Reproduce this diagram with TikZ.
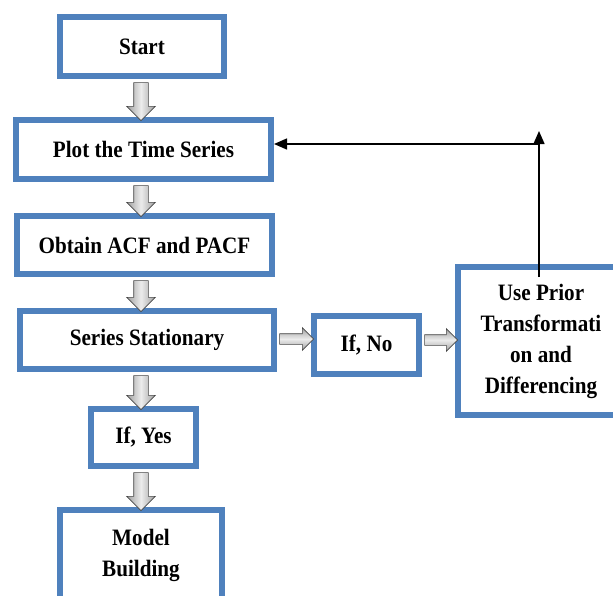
\documentclass[tikz,border=0pt]{standalone}
\usepackage{fontspec}
\setmainfont[FakeStretch=0.9]{Liberation Serif}
\usetikzlibrary{shapes.arrows,calc,arrows.meta}
\definecolor{boxblue}{HTML}{4F81BD}
\begin{document}
\begin{tikzpicture}[x=1pt,y=1pt,
  box/.style={draw=boxblue, line width=6pt, fill=white, rectangle, align=center,
    font=\fontsize{23.5}{31}\selectfont\bfseries, inner sep=0pt},
  fatv/.style={single arrow, draw=gray!55!black, line width=0.6pt,
    left color=gray!75, right color=gray!75, middle color=gray!15,
    inner xsep=0pt, inner ysep=7pt, single arrow head extend=7pt, single arrow head indent=0pt,
    single arrow tip angle=90, outer sep=0pt, sloped, allow upside down, anchor=center},
  fath/.style={fatv, top color=gray!75, bottom color=gray!75, middle color=gray!15,
    inner ysep=5pt, single arrow head extend=6pt},
  fb/.style={draw=black, line width=1.4pt, -{Triangle[length=13pt,width=11pt]}}
]
\useasboundingbox (0,0) rectangle (613,-595);
\clip (0,0) rectangle (613,-595);
\fill[white] (0,0) rectangle (613,-595);

\node[box, minimum width=164pt, minimum height=59pt] (Start) at (142,-46.5) {Start};
\node[box, minimum width=255pt, minimum height=59pt] (Plot) at (143.5,-149.5) {Plot the Time Series};
\node[box, minimum width=255pt, minimum height=58pt] (Obtain) at (144.5,-245) {Obtain ACF and PACF};
\node[box, minimum width=254pt, minimum height=58pt] (Series) at (147,-340) {Series Stationary};
\node[box, minimum width=105pt, minimum height=58pt] (IfNo) at (366.5,-345) {If, No};
\node[box, minimum width=166pt, minimum height=148pt] (UP) at (541,-341)
  {Use Prior\\Transformati\\on and\\Differencing};
\node[box, minimum width=105pt, minimum height=57pt] (IfYes) at (143.5,-437.5) {If, Yes};
\node[box, minimum width=162pt, minimum height=90pt] (Model) at (141,-555) {Model\\Building};

% fat vertical arrows
\foreach \a/\b in {Start/Plot, Plot/Obtain, Obtain/Series, Series/IfYes, IfYes/Model}{
  \path let \p1=($(\a.south)-(\b.north)$), \n1={abs(\y1)} in
    ([xshift=-1pt]\a.south -| Start.south) -- node[fatv, minimum height=\n1]{} ([xshift=-1pt]\b.north -| Start.south);
}
% fat horizontal arrows
\path let \p1=($(Series.east)-(IfNo.west)$), \n1={abs(\x1)} in
  ([yshift=1pt]Series.east) -- node[fath, minimum height=\n1]{} ([yshift=1pt]IfNo.west |- Series.east);
\path let \p1=($(IfNo.east)-(UP.west)$), \n1={abs(\x1)} in
  ([yshift=5pt]IfNo.east) -- node[fath, minimum height=\n1]{} ([yshift=5pt]IfNo.east -| UP.west);

% feedback
\coordinate (fbT) at ([xshift=-2pt]UP.north |- 0,-131);
\coordinate (fbH) at ([xshift=-2pt]UP.north |- 0,-144);
\draw[fb] ([xshift=-2pt,yshift=-13pt]UP.north) -- (fbT);
\draw[fb] (fbH) -- (fbH -| Plot.east);
\end{tikzpicture}
\end{document}
